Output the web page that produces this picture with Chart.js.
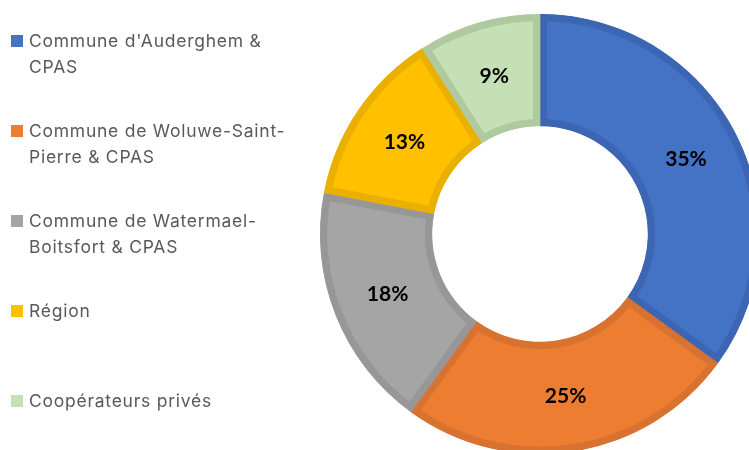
<!DOCTYPE html>
<html>
<head>
<meta charset="utf-8">
<script src="https://cdn.jsdelivr.net/npm/chart.js@4/dist/chart.umd.min.js"></script>
<style>
html, body { margin: 0; padding: 0; background: #ffffff; overflow: hidden; }
#wrap { position: relative; width: 749px; height: 450px; }
#c { position: absolute; left: 0; top: 0; }
#legend { position: absolute; left: 0; top: 0; width: 320px; height: 450px; }
.item { position: absolute; left: 29px; font-family: Inter, "Noto Sans", sans-serif; font-size: 17.5px; letter-spacing: 0.75px; line-height: 26px; color: #595959; white-space: nowrap; }
.box { position: absolute; left: -18px; width: 12px; height: 12px; }
</style>
</head>
<body>
<div id="wrap">
  <canvas id="c" width="749" height="450"></canvas>
  <div id="legend"></div>
</div>
<script>
// ---- data ----
const categories = [
  ["Commune d'Auderghem &", "CPAS"],
  ["Commune de Woluwe-Saint-", "Pierre & CPAS"],
  ["Commune de Watermael-", "Boitsfort & CPAS"],
  ["Région"],
  ["Coopérateurs privés"]
];
const shares = [35, 25, 18, 13, 9];

// ---- styles ----
const fillColors   = ["#4472C4", "#ED7D31", "#A5A5A5", "#FFC000", "#C5E0B4"];
const borderColors = ["#3C66B3", "#D87230", "#979797", "#EAB000", "#AFCA9F"];

const labelPlugin = {
  id: 'pctLabels',
  afterDatasetsDraw(chart) {
    const ctx = chart.ctx;
    const meta = chart.getDatasetMeta(0);
    const data = chart.data.datasets[0].data;
    const total = data.reduce((a, b) => a + b, 0);
    ctx.save();
    ctx.font = 'bold 21px Lato, "Open Sans", sans-serif';
    ctx.fillStyle = '#000000';
    ctx.textAlign = 'center';
    ctx.textBaseline = 'middle';
    meta.data.forEach((arc, i) => {
      const p = arc.tooltipPosition();
      const pct = Math.round(data[i] / total * 100) + '%';
      ctx.fillText(pct, p.x, p.y);
    });
    ctx.restore();
  }
};

const chart = new Chart(document.getElementById('c'), {
  type: 'doughnut',
  data: {
    labels: categories,
    datasets: [{
      data: shares,
      backgroundColor: fillColors,
      borderColor: borderColors,
      borderWidth: 7,
      borderAlign: 'inner',
      hoverOffset: 0,
      clip: false
    }]
  },
  options: {
    responsive: false,
    animation: false,
    radius: 220,
    cutout: '49%',
    rotation: 0,
    layout: { padding: { left: 331, top: 18, right: 0, bottom: 0 } },
    plugins: {
      legend: { display: false },
      tooltip: { enabled: false }
    },
    events: []
  },
  plugins: [labelPlugin]
});

// HTML legend built from the chart's own labels and colours
const legend = document.getElementById('legend');
chart.data.labels.forEach((lines, i) => {
  const item = document.createElement('div');
  item.className = 'item';
  item.style.top = (28 + i * 90) + 'px';
  const box = document.createElement('span');
  box.className = 'box';
  box.style.background = fillColors[i];
  box.style.top = '7px';
  item.appendChild(box);
  lines.forEach((t, j) => {
    if (j > 0) item.appendChild(document.createElement('br'));
    item.appendChild(document.createTextNode(t));
  });
  legend.appendChild(item);
});
</script>
</body>
</html>
